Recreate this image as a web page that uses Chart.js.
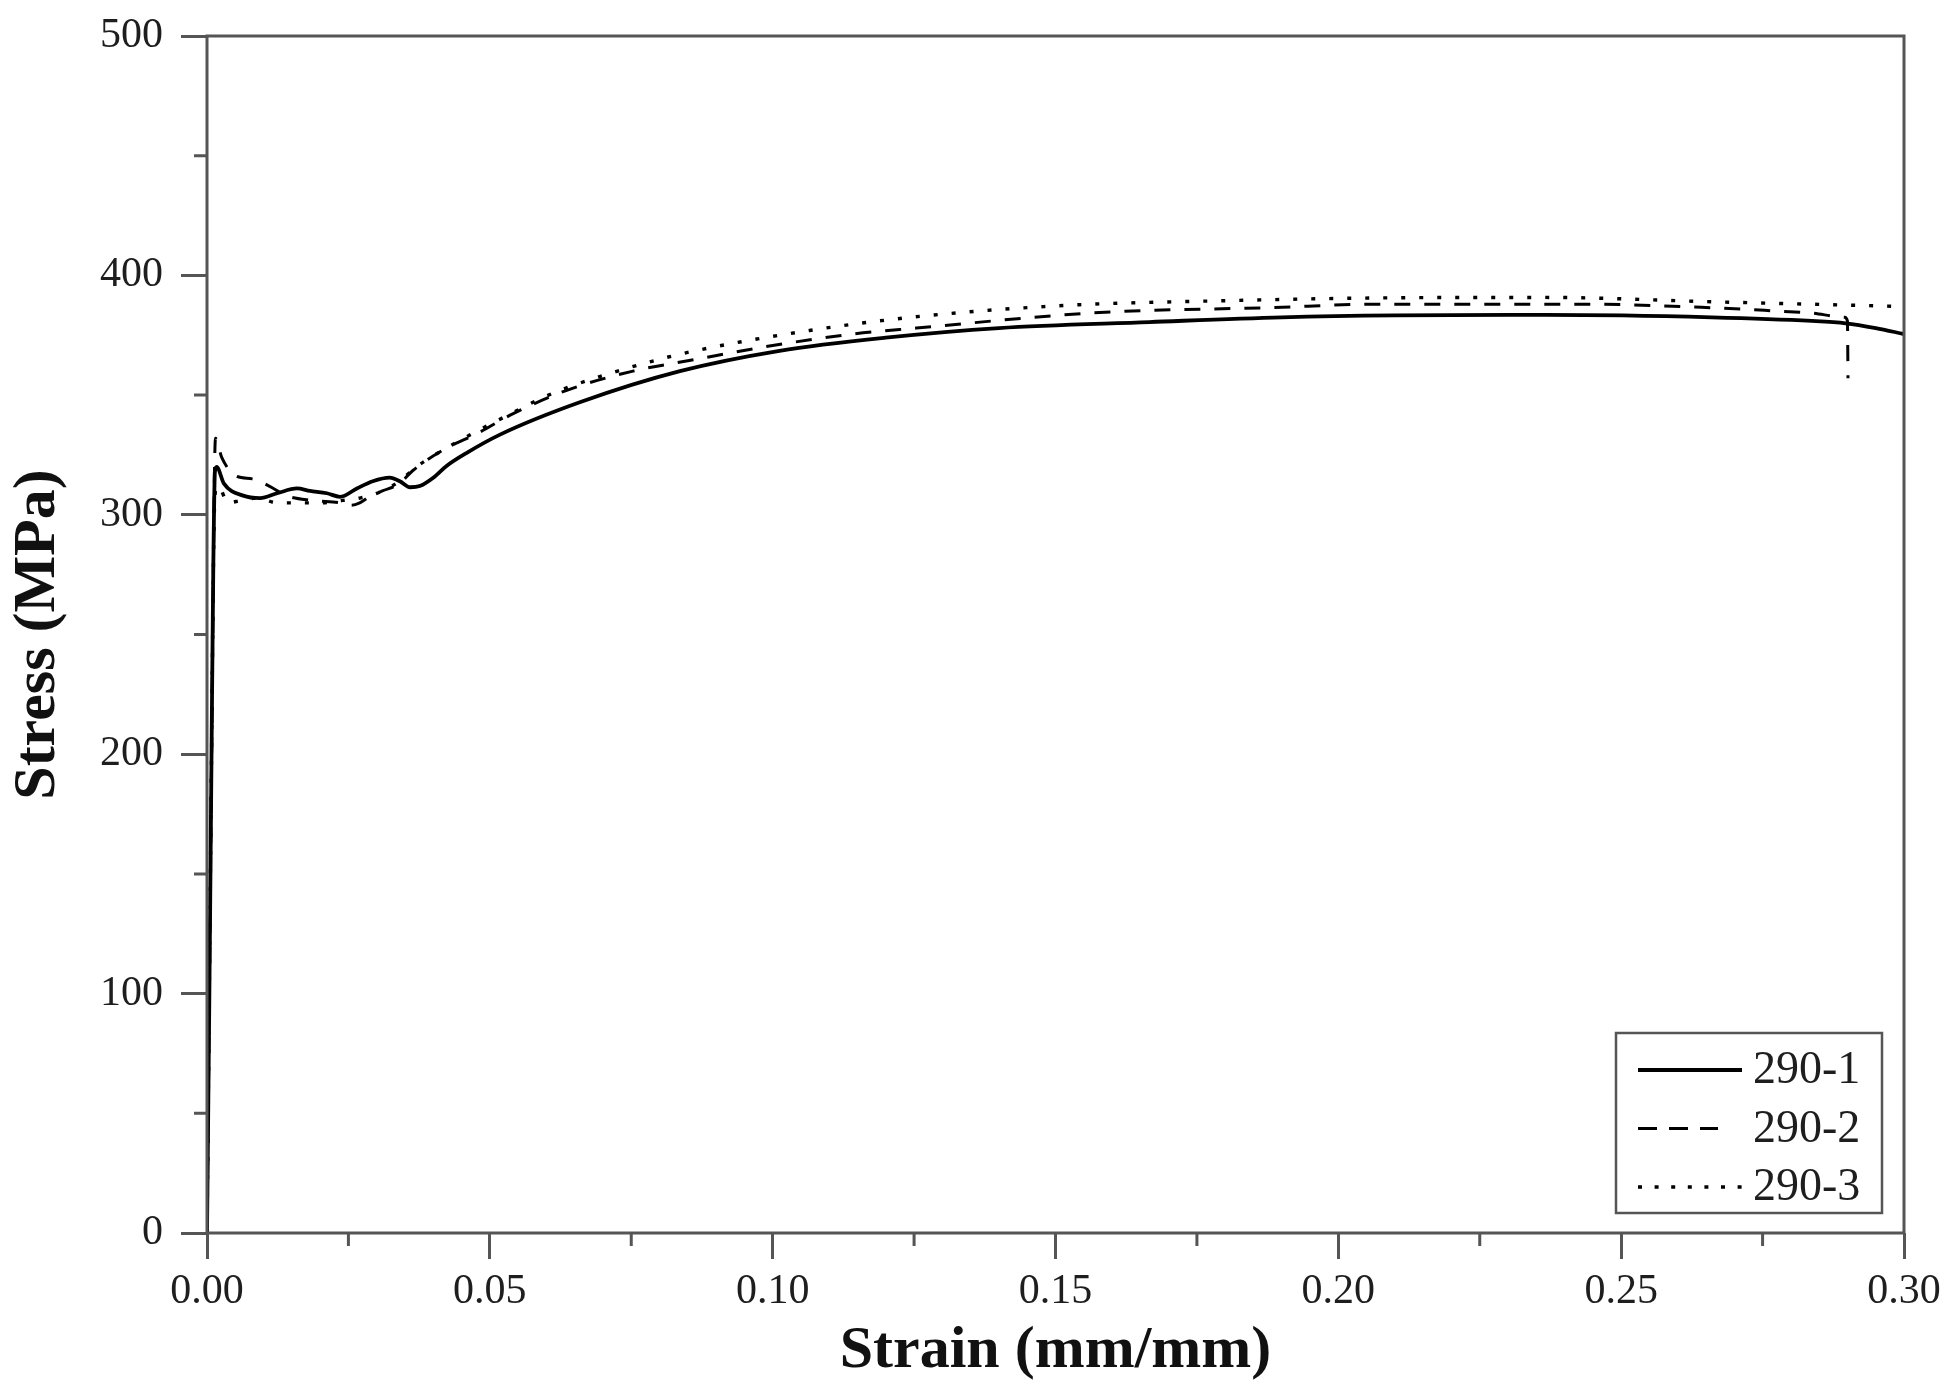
<!DOCTYPE html>
<html>
<head>
<meta charset="utf-8">
<script src="https://cdn.jsdelivr.net/npm/chart.js@4.4.1/dist/chart.umd.min.js"></script>
<style>
html,body{margin:0;padding:0;background:#fff;}
#wrap{width:1949px;height:1389px;}
</style>
</head>
<body>
<div id="wrap"><canvas id="c" width="1949" height="1389"></canvas></div>
<script>
// ---- data ----
const seriesLabels = ['290-1', '290-2', '290-3'];

const strain1 = [0, 0.0004, 0.0008, 0.0011, 0.0014, 0.0017, 0.003, 0.0064, 0.0094, 0.0124, 0.0159, 0.0182, 0.0212, 0.0235, 0.0265, 0.0293, 0.0323, 0.0341, 0.0359, 0.0376, 0.040, 0.0424, 0.046, 0.0518, 0.0659, 0.0836, 0.1012, 0.12, 0.14, 0.1666, 0.19, 0.21, 0.2367, 0.266, 0.2837, 0.2897, 0.295, 0.30];
const stress1 = [0, 95, 200, 275, 318, 320, 313, 308, 307, 309, 311, 310, 309, 307.5, 311, 314, 315.5, 314, 311.5, 312, 315.5, 320.5, 326, 333.5, 347, 360, 368.5, 374, 378, 380.5, 382.5, 383.3, 383.5, 382.5, 381, 380, 378, 375.5];

const strain2 = [0, 0.0004, 0.0008, 0.0011, 0.0013, 0.0015, 0.0026, 0.0053, 0.008, 0.011, 0.014, 0.0187, 0.0235, 0.0255, 0.027, 0.029, 0.031, 0.034, 0.0364, 0.0417, 0.0482, 0.0535, 0.0636, 0.0753, 0.0866, 0.0982, 0.1141, 0.1254, 0.1578, 0.1873, 0.2078, 0.2426, 0.266, 0.2827, 0.2895, 0.2900, 0.2901];
const stress2 = [0, 95, 195, 270, 315, 332, 324, 316, 315, 312, 308, 306, 305, 304, 305, 308, 310, 313, 318.5, 327, 334.5, 341.5, 352, 360, 365, 370, 375.5, 378, 384.5, 386.5, 388, 388, 386.5, 384.5, 382.5, 381, 357];

const strain3 = [0, 0.0004, 0.0008, 0.0012, 0.0015, 0.002, 0.0037, 0.006, 0.009, 0.0124, 0.016, 0.02, 0.024, 0.027, 0.0306, 0.034, 0.037, 0.0406, 0.047, 0.0535, 0.0594, 0.0659, 0.0777, 0.0853, 0.1065, 0.1265, 0.152, 0.1813, 0.2078, 0.2367, 0.266, 0.30];
const stress3 = [0, 100, 200, 290, 310, 312, 305, 306, 307, 305, 305, 305, 306, 307, 309.5, 314, 320, 325.5, 334, 342, 349, 355, 363.5, 368, 377, 383, 387.5, 389.5, 390.6, 390.8, 389, 387];

const xMajorTicks = [0, 0.05, 0.10, 0.15, 0.20, 0.25, 0.30];
const xMinorTicks = [0.025, 0.075, 0.125, 0.175, 0.225, 0.275];
const yMajorTicks = [0, 100, 200, 300, 400, 500];
const yMinorTicks = [50, 150, 250, 350, 450];

const xTitle = 'Strain (mm/mm)';
const yTitle = 'Stress (MPa)';

// ---- styles ----
const AXIS_COLOR = '#555';
const TEXT_COLOR = '#1e1e1e';
const SERIF = "'Liberation Serif', 'DejaVu Serif', serif";
const lineStyles = [
  {dash: [], width: 3.8, legendDash: [], legendLen: 104},
  {dash: [16, 14], width: 3.0, legendDash: [19, 12], legendLen: 80},
  {dash: [4, 14], width: 3.4, legendDash: [4, 12.6], legendLen: 104}
];

function pts(xs, ys) { return xs.map((x, i) => ({x: x, y: ys[i]})); }
const seriesData = [pts(strain1, stress1), pts(strain2, stress2), pts(strain3, stress3)];

const datasets = seriesData.map((d, i) => ({
  label: seriesLabels[i],
  data: d,
  borderColor: '#000',
  borderWidth: lineStyles[i].width,
  borderDash: lineStyles[i].dash,
  borderCapStyle: 'butt',
  pointRadius: 0,
  fill: false,
  cubicInterpolationMode: 'monotone'
}));

const framePlugin = {
  id: 'frameAndLegend',
  afterDraw(chart) {
    const {ctx, chartArea: a} = chart;
    const xs = chart.scales.x, ys = chart.scales.y;
    ctx.save();
    ctx.strokeStyle = AXIS_COLOR;
    ctx.lineWidth = 3;
    ctx.setLineDash([]);
    ctx.strokeRect(a.left, a.top, a.right - a.left, a.bottom - a.top);
    // minor ticks
    ctx.beginPath();
    xMinorTicks.forEach(v => {
      const p = xs.getPixelForValue(v);
      ctx.moveTo(p, a.bottom); ctx.lineTo(p, a.bottom + 13);
    });
    yMinorTicks.forEach(v => {
      const p = ys.getPixelForValue(v);
      ctx.moveTo(a.left, p); ctx.lineTo(a.left - 13, p);
    });
    ctx.stroke();

    // legend box
    const bw = 266, bh = 180;
    const bx = a.right - 22 - bw, by = a.bottom - 20 - bh;
    ctx.fillStyle = '#fff';
    ctx.fillRect(bx, by, bw, bh);
    ctx.lineWidth = 2.5;
    ctx.strokeRect(bx, by, bw, bh);
    ctx.font = '46px ' + SERIF;
    ctx.textBaseline = 'middle';
    ctx.textAlign = 'left';
    chart.data.datasets.forEach((ds, i) => {
      const y = by + 37 + i * 58.5;
      const st = lineStyles[i];
      ctx.beginPath();
      ctx.strokeStyle = '#000';
      ctx.lineWidth = st.width;
      ctx.setLineDash(st.legendDash);
      ctx.moveTo(bx + 22, y);
      ctx.lineTo(bx + 22 + st.legendLen, y);
      ctx.stroke();
      ctx.setLineDash([]);
      ctx.fillStyle = TEXT_COLOR;
      ctx.fillText(ds.label, bx + 137, y + 1);
    });
    ctx.restore();
  }
};

new Chart(document.getElementById('c'), {
  type: 'line',
  data: {datasets: datasets},
  options: {
    responsive: false,
    devicePixelRatio: 1,
    animation: false,
    layout: {padding: {top: 36, right: 45, bottom: 0, left: 0}},
    plugins: {legend: {display: false}, tooltip: {enabled: false}},
    scales: {
      x: {
        type: 'linear',
        min: 0, max: 0.3,
        afterBuildTicks: s => { s.ticks = xMajorTicks.map(v => ({value: v})); },
        afterFit: s => { s.height = 156; s.paddingLeft = 0; s.paddingRight = 0; },
        ticks: {
          callback: v => Number(v).toFixed(2),
          font: {family: SERIF, size: 42},
          color: TEXT_COLOR,
          padding: 8,
          maxRotation: 0,
          autoSkip: false
        },
        grid: {display: true, drawOnChartArea: false, drawTicks: true, tickLength: 26, tickWidth: 3, tickColor: AXIS_COLOR},
        border: {display: false},
        title: {
          display: true, text: xTitle, color: '#111',
          font: {family: SERIF, size: 60, weight: 'bold'},
          padding: {top: 0, bottom: 2}
        }
      },
      y: {
        type: 'linear',
        min: 0, max: 500,
        afterBuildTicks: s => { s.ticks = yMajorTicks.map(v => ({value: v})); },
        afterFit: s => { s.width = 207; s.paddingTop = 0; s.paddingBottom = 0; },
        ticks: {
          font: {family: SERIF, size: 42},
          color: TEXT_COLOR,
          padding: 18
        },
        grid: {display: true, drawOnChartArea: false, drawTicks: true, tickLength: 26, tickWidth: 3, tickColor: AXIS_COLOR},
        border: {display: false},
        title: {
          display: true, text: yTitle, color: '#111',
          font: {family: SERIF, size: 60, weight: 'bold'},
          padding: {top: 2, bottom: 0}
        }
      }
    }
  },
  plugins: [framePlugin]
});
</script>
</body>
</html>
